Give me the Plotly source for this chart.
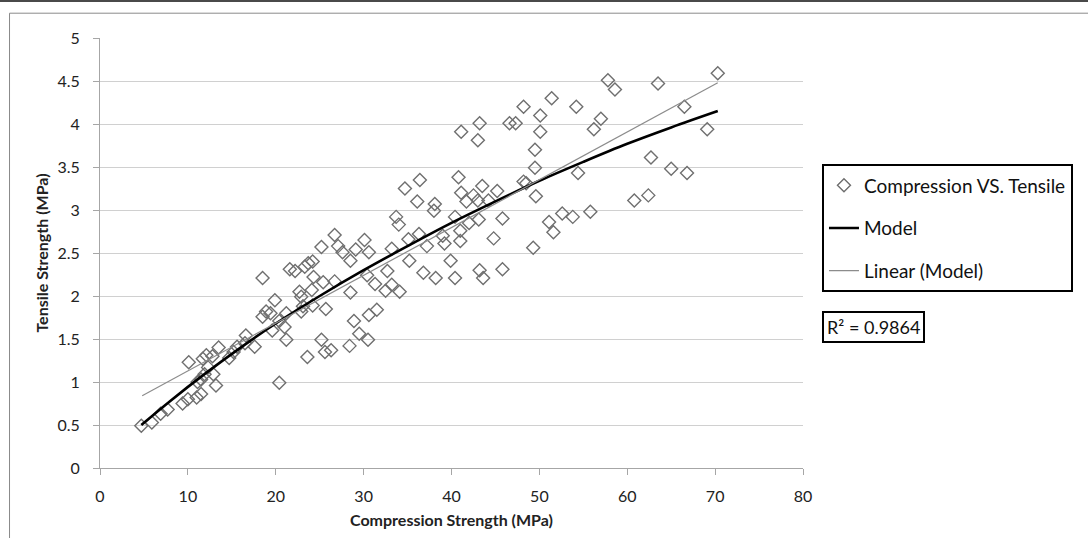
import plotly.graph_objects as go

# Measured pairs: compression strength (MPa) vs tensile strength (MPa)
compression = [
    4.7, 5.9, 6.9, 7.7, 9.4, 10.0, 11.0, 11.5, 10.1, 11.1, 11.5, 11.7, 11.9, 12.1,
    12.8, 12.3, 12.9, 13.2, 13.5, 14.7, 15.2, 15.6, 16.5, 16.6, 17.6, 18.5, 18.9,
    19.4, 19.6, 19.9, 20.4, 18.5,
    20.4, 21.0, 21.2, 21.2, 21.6, 22.2, 22.9, 22.7, 22.9, 23.3, 23.7, 24.2, 24.3,
    24.1, 24.2, 23.1, 25.4, 25.7, 26.7, 23.6, 25.2, 25.6, 26.3, 28.4, 25.2, 26.7,
    27.1, 27.6, 28.5, 29.1, 28.5, 28.9, 29.5, 30.5, 30.6, 31.5, 30.1, 30.6, 30.4,
    31.3, 32.7, 32.5, 33.2, 34.1, 33.2,
    33.7, 34.0, 34.7, 35.1, 35.2, 36.1, 36.3, 36.4, 36.8, 37.2, 38.0, 38.1, 38.2,
    39.0, 39.2, 39.9, 40.4, 40.4, 40.8, 41.0, 41.0, 41.1, 41.1, 41.7, 42.0, 42.5,
    43.0, 43.0, 43.1, 43.2, 43.2, 43.5, 43.6, 44.2, 44.8, 45.2, 45.8, 45.8,
    46.6, 47.3, 48.2, 48.2, 48.5, 49.3, 49.5, 49.5, 49.6, 50.1, 50.1, 51.1, 51.4,
    51.6, 52.6, 53.8, 54.2, 54.4, 55.8, 56.2, 57.0, 57.8, 58.6, 60.8, 62.4, 62.7,
    63.5, 65.0, 66.5, 66.8, 69.1, 70.3,
]
tensile = [
    0.49, 0.53, 0.63, 0.68, 0.75, 0.80, 0.82, 0.86, 1.23, 1.00, 1.03, 1.27, 1.09, 1.31,
    1.30, 1.17, 1.09, 0.96, 1.40, 1.28, 1.35, 1.41, 1.45, 1.54, 1.41, 1.76, 1.82,
    1.80, 1.60, 1.95, 0.99, 2.21,
    1.71, 1.64, 1.49, 1.80, 2.31, 2.29, 1.82, 2.05, 1.99, 2.34, 2.38, 2.40, 2.22,
    2.07, 1.89, 1.88, 2.16, 1.85, 2.17, 1.29, 1.49, 1.35, 1.37, 1.42, 2.57, 2.71,
    2.58, 2.51, 2.41, 2.54, 2.04, 1.71, 1.56, 1.49, 1.78, 1.84, 2.65, 2.51, 2.24,
    2.14, 2.29, 2.06, 2.13, 2.05, 2.55,
    2.92, 2.83, 3.25, 2.66, 2.41, 3.10, 2.72, 3.35, 2.27, 2.58, 2.99, 3.07, 2.21,
    2.70, 2.61, 2.41, 2.21, 2.92, 3.38, 2.64, 2.76, 3.91, 3.20, 3.10, 2.85, 3.17,
    3.81, 3.11, 2.89, 4.01, 2.30, 3.28, 2.21, 3.11, 2.67, 3.22, 2.90, 2.31,
    4.01, 4.01, 4.20, 3.33, 3.31, 2.56, 3.70, 3.49, 3.16, 4.10, 3.91, 2.86, 4.30,
    2.74, 2.96, 2.92, 4.20, 3.43, 2.98, 3.94, 4.06, 4.51, 4.40, 3.11, 3.17, 3.61,
    4.47, 3.48, 4.20, 3.43, 3.94, 4.59,
]

# Model curve
model_x = [4.7, 8, 12, 16, 20, 25, 30, 35, 40, 45, 50, 55, 60, 65, 70.3]
model_y = [0.50, 0.78, 1.10, 1.40, 1.68, 2.00, 2.30, 2.58, 2.85, 3.10, 3.34, 3.56, 3.77, 3.96, 4.15]

# Linear trendline of the model
trend_x = [4.8, 70.3]
trend_y = [0.84, 4.48]
r_squared = 0.9864

font_family = "Lato, 'Open Sans', sans-serif"

fig = go.Figure()
fig.add_trace(go.Scatter(
    x=compression, y=tensile, mode="markers", name="Compression VS. Tensile",
    legendgroup="g1",
    marker=dict(symbol="diamond-open", size=10, color="#6f6f6f", line=dict(width=1.4, color="#6f6f6f")),
))
fig.add_trace(go.Scatter(
    x=model_x, y=model_y, mode="lines", name="Model", legendgroup="g2",
    line=dict(color="#000000", width=2.6, shape="spline"),
))
fig.add_trace(go.Scatter(
    x=trend_x, y=trend_y, mode="lines", name="Linear (Model)", legendgroup="g3",
    line=dict(color="#8c8c8c", width=1.2),
))

fig.update_layout(
    width=1088, height=538,
    margin=dict(l=100, r=285, t=38, b=67),
    paper_bgcolor="white", plot_bgcolor="white",
    font=dict(family=font_family, size=15, color="#222222"),
    showlegend=True,
    legend=dict(
        x=1.027, y=0.706, xanchor="left", yanchor="top",
        bgcolor="white", bordercolor="#000000", borderwidth=2,
        font=dict(size=19, color="#111111"),
        itemwidth=30, tracegroupgap=15,
    ),
    xaxis=dict(
        range=[0, 80], dtick=10, showgrid=False, zeroline=False,
        showline=True, linecolor="#a6a6a6", linewidth=1,
        ticks="outside", ticklen=6, tickcolor="#a6a6a6",
        ticklabelstandoff=8, tickfont=dict(size=16),
        title=dict(text="<b>Compression Strength (MPa)</b>", font=dict(size=16), standoff=10),
    ),
    yaxis=dict(
        range=[0, 5], dtick=0.5, showgrid=True, gridcolor="#d0d0d0", gridwidth=1,
        zeroline=False, showline=True, linecolor="#a6a6a6", linewidth=1,
        ticks="outside", ticklen=6, tickcolor="#a6a6a6",
        ticklabelstandoff=10, tickfont=dict(size=16),
        title=dict(text="<b>Tensile Strength (MPa)</b>", font=dict(size=16), standoff=4),
    ),
)

# R² box for the linear trendline
fig.add_annotation(
    xref="paper", yref="paper", x=1.027, y=0.328, xanchor="left", yanchor="middle",
    text=f"R² = {r_squared}", showarrow=False,
    font=dict(size=18, color="#111111"),
    bordercolor="#000000", borderwidth=2, borderpad=3, bgcolor="white",
)

# Chart frame (left and top edges show; the rest runs off the page)
fig.add_shape(type="rect", xref="paper", yref="paper", layer="below",
              x0=-0.1287, x1=1.45, y0=-0.3, y1=1.0577,
              line=dict(color="#8a8a8a", width=1))
fig.add_shape(type="line", xref="paper", yref="paper", layer="above",
              x0=-0.2, x1=1.45, y0=1.086, y1=1.086,
              line=dict(color="#4a4a4a", width=2))

fig.write_html("out.html")
